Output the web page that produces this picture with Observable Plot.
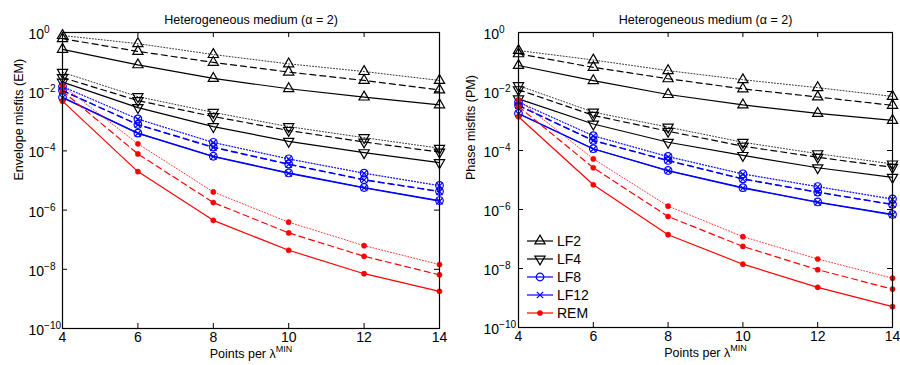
<!DOCTYPE html>
<html><head><meta charset="utf-8">
<script src="https://cdn.jsdelivr.net/npm/d3@7"></script>
<script src="https://cdn.jsdelivr.net/npm/@observablehq/plot@0.6"></script>
<style>
body{margin:0;background:#fff;}
#wrap{position:relative;width:900px;height:365px;display:flex;}
#wrap svg{display:block;overflow:visible}
#legend{position:absolute;left:0;top:0;pointer-events:none}
</style></head><body><div id="wrap"></div>
<script>
// ---------- data ----------
const ppw = [4, 6, 8, 10, 12, 14];
const methods = ["LF2", "LF4", "LF8", "LF12", "REM"];
const styles = ["solid", "dashed", "dotted"];
const xTicks = [4, 6, 8, 10, 12, 14];
const yTickExp = [0, -2, -4, -6, -8, -10];
const titleText = "Heterogeneous medium (\u03b1 = 2)";
const xLabel = "Points per \u03bb^MIN";
const yLabels = ["Envelope misfits (EM)", "Phase misfits (PM)"];

// Envelope misfits, each method: [solid, dashed, dotted]
const emLF2 = [[0.27, 0.081, 0.028, 0.0126, 0.0066, 0.0036],
               [0.62, 0.23, 0.098, 0.046, 0.024, 0.0115],
               [0.79, 0.42, 0.18, 0.087, 0.048, 0.024]];
const emLF4 = [[0.021, 0.0029, 0.00066, 0.00021, 0.000087, 0.00004],
               [0.030, 0.0050, 0.00145, 0.00049, 0.0002, 0.000091],
               [0.045, 0.0068, 0.002, 0.00066, 0.00028, 0.000123]];
const emLF8 = [[0.0065, 0.0004, 0.000066, 0.000018, 0.0000058, 0.0000021],
               [0.011, 0.00078, 0.000135, 0.000036, 0.0000107, 0.0000043],
               [0.015, 0.0012, 0.000195, 0.000054, 0.0000178, 0.0000068]];
const emLF12 = [[0.0063, 0.00039, 0.000064, 0.0000175, 0.0000056, 0.000002],
                [0.0108, 0.00076, 0.00013, 0.000035, 0.0000104, 0.0000042],
                [0.0148, 0.00118, 0.00019, 0.000053, 0.0000174, 0.0000066]];
const emREM = [[0.0048, 2.0e-5, 4.5e-7, 4.4e-8, 7.1e-9, 1.8e-9],
               [0.0105, 7.9e-5, 1.8e-6, 1.7e-7, 2.75e-8, 6.5e-9],
               [0.016, 1.74e-4, 4.1e-6, 3.9e-7, 6.3e-8, 1.45e-8]];

// Phase misfits
const pmLF2 = [[0.076, 0.0234, 0.0079, 0.0035, 0.0018, 0.00105],
               [0.19, 0.066, 0.027, 0.0123, 0.0065, 0.0034],
               [0.245, 0.117, 0.051, 0.025, 0.0135, 0.0068]];
const pmLF4 = [[0.0056, 0.00079, 0.00019, 0.000068, 0.000026, 0.0000123],
               [0.0115, 0.00155, 0.00045, 0.00014, 0.000059, 0.000027],
               [0.0158, 0.002, 0.00062, 0.00019, 0.000078, 0.000035]];
const pmLF8 = [[0.0018, 0.000115, 0.000021, 0.0000055, 0.0000018, 0.00000068],
               [0.0034, 0.00022, 0.000046, 0.000011, 0.0000039, 0.0000015],
               [0.0044, 0.00032, 0.000063, 0.0000162, 0.000006, 0.0000023]];
const pmLF12 = [[0.00175, 0.000112, 0.0000205, 0.0000053, 0.00000175, 0.00000066],
                [0.0033, 0.000215, 0.000045, 0.0000107, 0.0000038, 0.00000146],
                [0.0043, 0.00031, 0.000061, 0.0000158, 0.0000059, 0.0000022]];
const pmREM = [[0.0014, 6.9e-6, 1.4e-7, 1.4e-8, 2.3e-9, 5.1e-10],
               [0.0031, 2.6e-5, 5.8e-7, 5.6e-8, 9.1e-9, 2.0e-9],
               [0.0052, 5.2e-5, 1.3e-6, 1.2e-7, 2.1e-8, 4.7e-9]];

const emData = {LF2: emLF2, LF4: emLF4, LF8: emLF8, LF12: emLF12, REM: emREM};
const pmData = {LF2: pmLF2, LF4: pmLF4, LF8: pmLF8, LF12: pmLF12, REM: pmREM};

// ---------- styles ----------
const FONT = "'Liberation Sans', Arial, Helvetica, sans-serif";
const downTriangle = {
  draw(ctx, size) {
    const y = -Math.sqrt(size / (Math.sqrt(3) * 3));
    ctx.moveTo(0, -2 * y);
    ctx.lineTo(Math.sqrt(3) * y, y);
    ctx.lineTo(-Math.sqrt(3) * y, y);
    ctx.closePath();
  }
};
const mStyle = {
  LF2: {color: "#000", symbol: "triangle", r: 3.8, fill: "none", d3sym: d3.symbolTriangle},
  LF4: {color: "#000", symbol: downTriangle, r: 3.8, fill: "none", d3sym: downTriangle},
  LF8: {color: "#0000ff", symbol: "circle", r: 3.8, fill: "none", d3sym: d3.symbolCircle},
  LF12: {color: "#0000ff", symbol: "times", r: 3, fill: "none", d3sym: d3.symbolTimes || d3.symbolX},
  REM: {color: "#ff0000", symbol: "circle", r: 2.6, fill: "#ff0000", d3sym: d3.symbolCircle}
};
const dashes = {solid: null, dashed: "6,4", dotted: "1,2"};
const widths = {solid: 1.2, dashed: 1.2, dotted: 0.8};
const LW = 1.2;

// turn "base^exp" texts into base + raised superscript
function supify(svg) {
  svg.querySelectorAll("text").forEach(t => {
    const s = t.textContent;
    if (s.indexOf("^") < 0) return;
    const parts = s.split("^");
    const fs = parseFloat(t.getAttribute("font-size") || t.closest("[font-size]")?.getAttribute("font-size") || 14);
    while (t.firstChild) t.removeChild(t.firstChild);
    const b = document.createElementNS("http://www.w3.org/2000/svg", "tspan");
    b.textContent = parts[0];
    t.appendChild(b);
    const ts = document.createElementNS("http://www.w3.org/2000/svg", "tspan");
    ts.setAttribute("dy", (-0.42 * fs).toFixed(1));
    ts.setAttribute("font-size", (fs * 0.72).toFixed(1));
    ts.textContent = parts[1];
    t.appendChild(ts);
  });
}

function panel(data, ylabel, o) {
  const H = 365, W = 450;
  const plotW = W - o.ml - o.mr, plotH = H - o.mt - o.mb;
  const marks = [];
  for (const m of methods) {
    const st = mStyle[m];
    styles.forEach((s, si) => {
      const rows = ppw.map((x, i) => ({x, y: data[m][si][i]}));
      marks.push(Plot.line(rows, {x: "x", y: "y", stroke: st.color, strokeWidth: widths[s], strokeDasharray: dashes[s]}));
      marks.push(Plot.dot(rows, {x: "x", y: "y", symbol: st.symbol, r: st.r, stroke: st.color, fill: st.fill, strokeWidth: m === "REM" ? 0.5 : LW}));
    });
  }
  const yTicks = yTickExp.map(e => Math.pow(10, e));
  const svg = Plot.plot({
    width: W, height: H,
    marginTop: o.mt, marginBottom: o.mb, marginLeft: o.ml, marginRight: o.mr,
    x: {domain: [4, 14], axis: null},
    y: {type: "log", domain: [1e-10, 1], axis: null},
    style: {fontFamily: FONT, fontSize: "14px", background: "white", color: "black"},
    marks: [
      ...marks,
      Plot.frame({stroke: "black", strokeWidth: 1.2}),
      Plot.tickX(xTicks, {x: d => d, insetTop: plotH - 5, stroke: "black"}),
      Plot.tickX(xTicks, {x: d => d, insetBottom: plotH - 5, stroke: "black"}),
      Plot.tickY(yTicks, {y: d => d, insetRight: plotW - 5, stroke: "black"}),
      Plot.tickY(yTicks, {y: d => d, insetLeft: plotW - 5, stroke: "black"}),
      Plot.text(xTicks, {x: d => d, text: d => String(d), frameAnchor: "bottom", lineAnchor: "top", dy: 4, fontSize: 14, fill: "black"}),
      Plot.text(yTickExp, {y: e => Math.pow(10, e), text: e => "10^" + (e < 0 ? "\u2212" + (-e) : e), frameAnchor: "left", textAnchor: "start", dx: o.ylabDx, dy: 2, fontSize: 14, fill: "black"}),
      Plot.text([0], {text: () => titleText, frameAnchor: "top", dy: -17, fontSize: 12.5, fill: "black"}),
      Plot.text([0], {text: () => xLabel, frameAnchor: "bottom", dy: 29, fontSize: 12.5, fill: "black"}),
      Plot.text([0], {text: () => ylabel, frameAnchor: "left", dx: o.ytitleDx, rotate: -90, fontSize: 12.5, fill: "black"})
    ]
  });
  supify(svg);
  return svg;
}

const wrap = document.getElementById("wrap");
wrap.appendChild(panel(emData, yLabels[0], {mt: 32, mb: 37, ml: 62, mr: 11, ylabDx: -34, ytitleDx: -44}));
wrap.appendChild(panel(pmData, yLabels[1], {mt: 32, mb: 38, ml: 68, mr: 8, ylabDx: -35, ytitleDx: -48}));

// ---------- legend (inside right panel) ----------
const leg = d3.select(wrap).append("svg").attr("id", "legend").attr("width", 900).attr("height", 365);
const legY0 = 241, legDy = 18;
methods.forEach((m, i) => {
  const st = mStyle[m];
  const y = legY0 + i * legDy;
  const g = leg.append("g").attr("transform", `translate(527,${y})`);
  g.append("line").attr("x1", 0).attr("x2", 26).attr("stroke", st.color).attr("stroke-width", LW);
  g.append("path").attr("transform", "translate(13,0)")
    .attr("d", d3.symbol().type(st.d3sym).size(Math.PI * st.r * st.r)())
    .attr("stroke", st.color).attr("fill", st.fill === "none" ? "none" : st.fill)
    .attr("stroke-width", m === "REM" ? 0.5 : LW);
  g.append("text").attr("x", 30).attr("dy", "0.35em").attr("font-family", FONT).attr("font-size", 14).attr("fill", "black").text(m);
});
</script></body></html>
